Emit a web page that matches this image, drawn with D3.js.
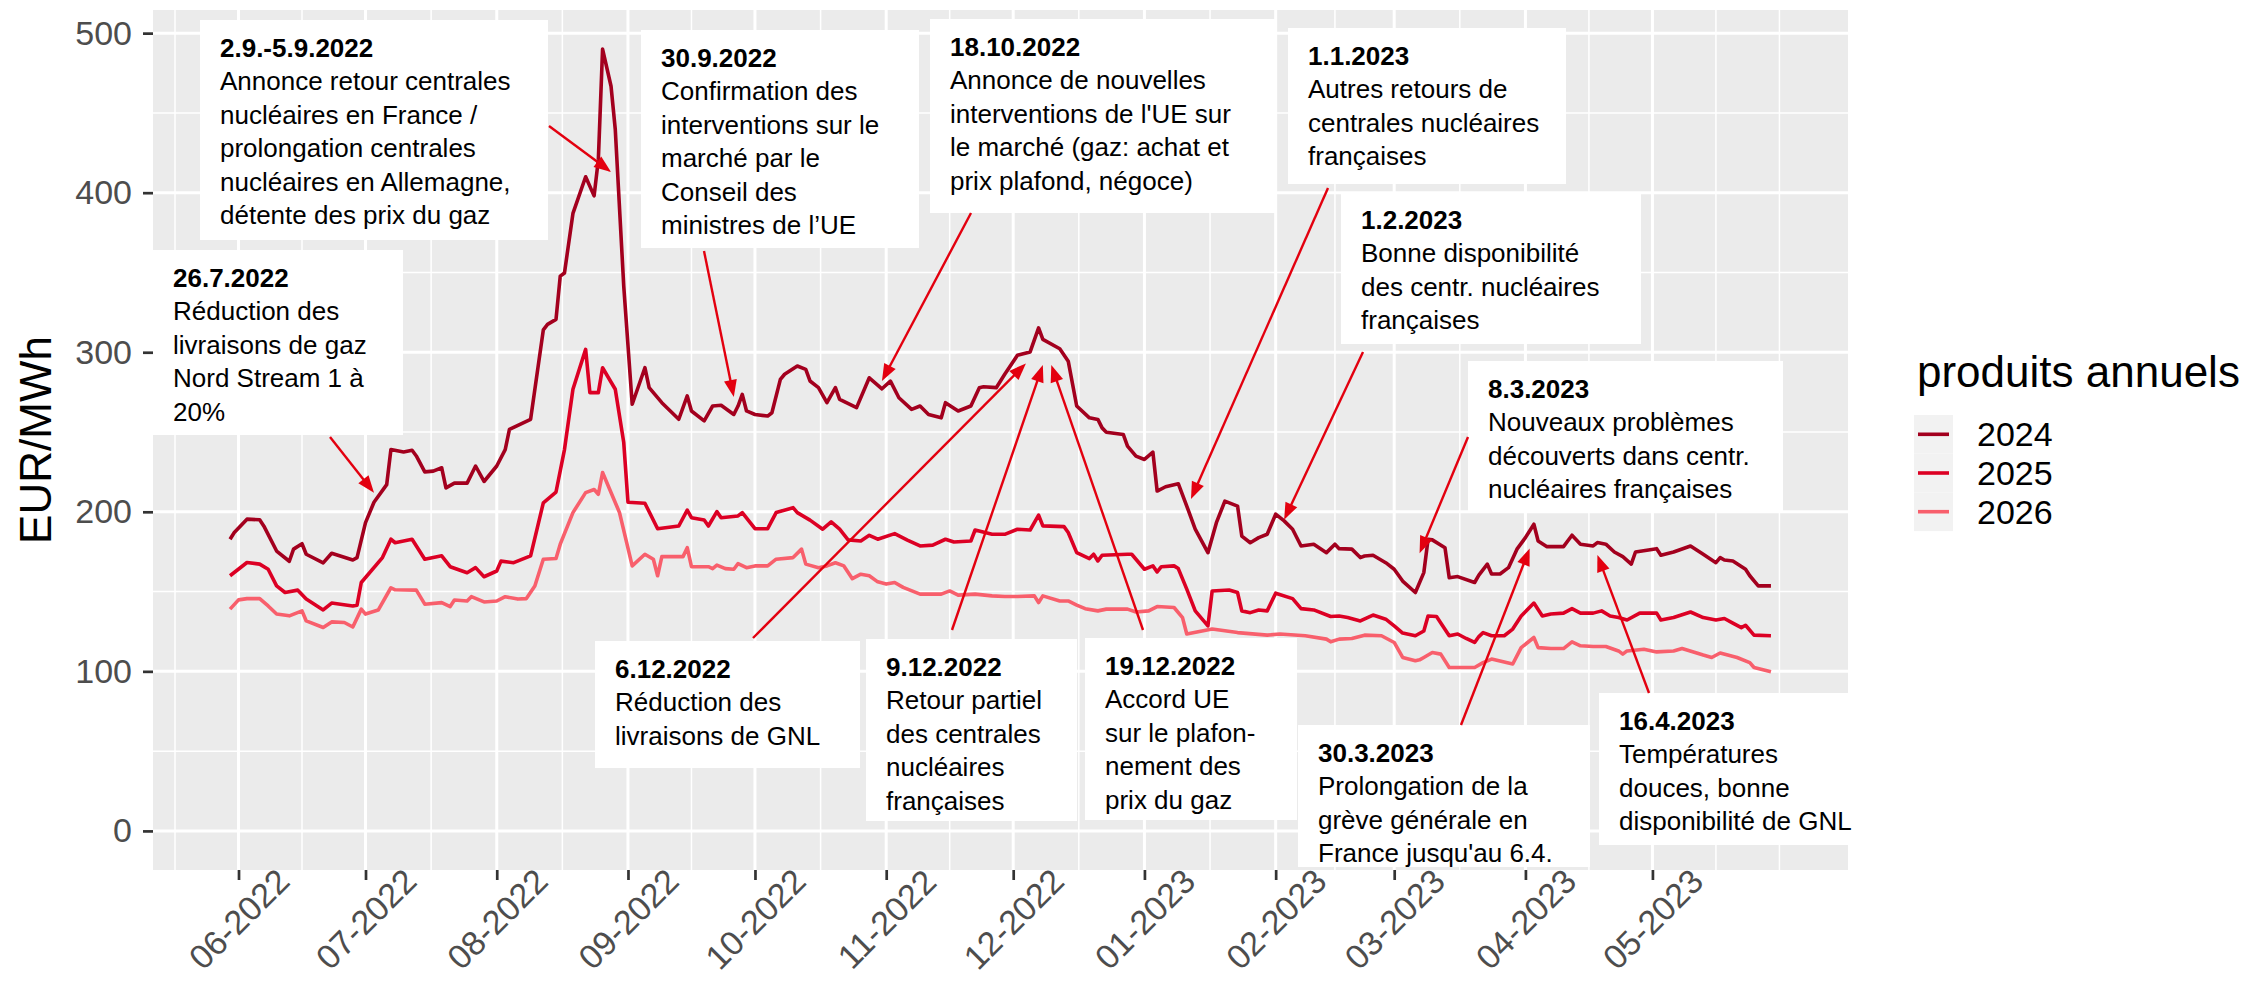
<!DOCTYPE html>
<html>
<head>
<meta charset="utf-8">
<script src="https://cdn.jsdelivr.net/npm/d3@7"></script>
<style>
body { margin: 0; background: #fff; }
svg text { font-family: "Liberation Sans", Arial, Helvetica, sans-serif; }
</style>
</head>
<body>
<svg id="chart" width="2249" height="994"></svg>
<script>
// ---- data (EUR/MWh, annual base products) ----
var dates2024 = ["2022-05-30","2022-05-31","2022-06-03","2022-06-06","2022-06-07","2022-06-10","2022-06-13","2022-06-14","2022-06-16","2022-06-17","2022-06-21","2022-06-23","2022-06-28","2022-06-29","2022-07-01","2022-07-03","2022-07-06","2022-07-07","2022-07-10","2022-07-12","2022-07-13","2022-07-15","2022-07-17","2022-07-19","2022-07-20","2022-07-22","2022-07-25","2022-07-27","2022-07-29","2022-08-01","2022-08-03","2022-08-04","2022-08-09","2022-08-12","2022-08-13","2022-08-15","2022-08-16","2022-08-17","2022-08-19","2022-08-22","2022-08-24","2022-08-25","2022-08-26","2022-08-28","2022-08-29","2022-08-31","2022-09-02","2022-09-05","2022-09-06","2022-09-09","2022-09-13","2022-09-15","2022-09-16","2022-09-19","2022-09-21","2022-09-23","2022-09-26","2022-09-27","2022-09-28","2022-09-29","2022-10-01","2022-10-04","2022-10-05","2022-10-07","2022-10-08","2022-10-11","2022-10-13","2022-10-14","2022-10-16","2022-10-18","2022-10-20","2022-10-21","2022-10-25","2022-10-28","2022-10-31","2022-11-02","2022-11-04","2022-11-07","2022-11-09","2022-11-11","2022-11-14","2022-11-15","2022-11-18","2022-11-21","2022-11-23","2022-11-24","2022-11-27","2022-11-29","2022-12-02","2022-12-05","2022-12-07","2022-12-08","2022-12-12","2022-12-14","2022-12-16","2022-12-19","2022-12-21","2022-12-22","2022-12-23","2022-12-27","2022-12-28","2022-12-30","2023-01-01","2023-01-03","2023-01-04","2023-01-06","2023-01-09","2023-01-11","2023-01-13","2023-01-16","2023-01-18","2023-01-20","2023-01-23","2023-01-24","2023-01-26","2023-01-28","2023-01-30","2023-02-01","2023-02-03","2023-02-05","2023-02-07","2023-02-10","2023-02-13","2023-02-15","2023-02-16","2023-02-19","2023-02-21","2023-02-22","2023-02-24","2023-02-27","2023-03-01","2023-03-03","2023-03-06","2023-03-08","2023-03-09","2023-03-10","2023-03-13","2023-03-14","2023-03-16","2023-03-20","2023-03-21","2023-03-23","2023-03-24","2023-03-26","2023-03-28","2023-03-30","2023-04-01","2023-04-03","2023-04-04","2023-04-06","2023-04-10","2023-04-12","2023-04-14","2023-04-17","2023-04-18","2023-04-20","2023-04-22","2023-04-24","2023-04-26","2023-04-27","2023-05-02","2023-05-03","2023-05-06","2023-05-10","2023-05-13","2023-05-16","2023-05-17","2023-05-18","2023-05-20","2023-05-23","2023-05-24","2023-05-26","2023-05-29"];
var prices2024 = [182.8,187,195.4,195,191,175.4,169,176.6,180,173.4,168,174,169.8,171.3,193.2,206,217,239,237.5,238.6,235,225,225.5,227.6,215,218,218,228.7,219,228.7,239,251.7,258,314,317.5,320.6,347.7,349.7,387,410,398,420.7,490,466.7,439.6,341.5,267.4,290.3,277.8,268.4,258,272.6,263.2,257,266.3,266.8,261,266.3,273.6,263.2,261,260,262.1,283,286.2,291.4,289.3,282,277.8,268.4,277.8,270.5,265.3,284,277.1,281.9,271.5,264.2,266.3,261,258.9,268.4,263.2,266.3,277.8,278.4,277.8,286.2,298.1,300.2,315.3,308.1,302.2,294.4,266.3,258.9,257.9,252.6,249.9,248.5,241.2,234.9,232.8,237.4,213,215.7,217.6,203.6,189.1,174.4,193.2,206.7,203.6,184.8,180.6,183.8,185.9,198.5,194.3,189.1,178.6,179.7,174.4,179.7,176.9,176.6,171.3,172.3,172.8,168.1,164,156.6,149.4,161.9,182.8,182.4,177.5,158.7,159.4,155.7,160.3,167.2,161,161,165,176.6,183.8,192.2,181.7,178.2,178.2,185.3,179.7,178.6,180.7,179.7,174.8,171.9,167.2,174.8,176.9,172.8,174.8,178.6,173.4,168.1,171.3,169.8,169.2,164,159.9,153.6,153.6];

var dates2025 = ["2022-05-30","2022-06-03","2022-06-06","2022-06-08","2022-06-10","2022-06-12","2022-06-15","2022-06-17","2022-06-21","2022-06-23","2022-06-28","2022-06-29","2022-06-30","2022-07-05","2022-07-07","2022-07-08","2022-07-12","2022-07-15","2022-07-19","2022-07-21","2022-07-25","2022-07-27","2022-07-29","2022-08-01","2022-08-02","2022-08-05","2022-08-09","2022-08-12","2022-08-15","2022-08-17","2022-08-19","2022-08-22","2022-08-23","2022-08-25","2022-08-26","2022-08-29","2022-08-31","2022-09-01","2022-09-05","2022-09-08","2022-09-13","2022-09-15","2022-09-16","2022-09-19","2022-09-20","2022-09-22","2022-09-23","2022-09-27","2022-09-28","2022-10-01","2022-10-04","2022-10-06","2022-10-10","2022-10-11","2022-10-14","2022-10-17","2022-10-19","2022-10-21","2022-10-23","2022-10-26","2022-10-28","2022-10-30","2022-11-03","2022-11-06","2022-11-09","2022-11-12","2022-11-15","2022-11-17","2022-11-21","2022-11-22","2022-11-26","2022-11-29","2022-12-02","2022-12-05","2022-12-07","2022-12-08","2022-12-13","2022-12-14","2022-12-16","2022-12-19","2022-12-20","2022-12-21","2022-12-22","2022-12-28","2022-12-29","2023-01-01","2023-01-03","2023-01-04","2023-01-05","2023-01-08","2023-01-09","2023-01-11","2023-01-13","2023-01-16","2023-01-17","2023-01-21","2023-01-23","2023-01-24","2023-01-26","2023-01-28","2023-01-30","2023-02-01","2023-02-05","2023-02-07","2023-02-10","2023-02-14","2023-02-16","2023-02-18","2023-02-21","2023-02-24","2023-02-27","2023-03-01","2023-03-03","2023-03-06","2023-03-08","2023-03-09","2023-03-11","2023-03-14","2023-03-16","2023-03-18","2023-03-20","2023-03-21","2023-03-22","2023-03-24","2023-03-27","2023-03-29","2023-03-31","2023-04-03","2023-04-05","2023-04-07","2023-04-10","2023-04-12","2023-04-14","2023-04-17","2023-04-19","2023-04-21","2023-04-23","2023-04-25","2023-04-28","2023-05-02","2023-05-03","2023-05-06","2023-05-10","2023-05-13","2023-05-16","2023-05-18","2023-05-20","2023-05-22","2023-05-23","2023-05-25","2023-05-29"];
var prices2025 = [159.9,168.2,167.2,164,153.6,149.4,150.9,145.3,138.5,142.8,141,141.5,155.7,171.3,182.8,180.6,182.8,170.3,172.4,165.6,161.8,165,159.3,162.9,169.1,168.1,172.4,205.6,212.4,239,276.8,301.8,274.7,274.7,290.3,276.8,243.4,206,205.4,189.4,191.1,201.1,196.3,194.9,191.1,200.1,196.3,197.4,199.5,189.4,189.4,199.5,202.6,199.5,194.8,189.1,193.7,189.1,182.4,181.7,185.3,182.8,186.3,182.3,178.6,179.1,182.8,181.1,181.7,188.6,185.9,185.9,189.1,188.6,197.9,191.2,190.7,187,174.4,170.7,173.4,169.2,172.8,173.4,173.4,164,166.1,162.3,165.6,166.1,164.4,151.5,137.9,128.5,150.4,151,149.4,137.9,136.8,138.5,137.9,149,145.6,139.3,138.5,134.4,134.7,133.7,131.6,135.3,132.7,128.5,124,122.3,125.3,134.7,134.4,122.3,123.4,120.6,118.1,121.8,124.3,122.3,122.3,126.5,134.7,142.8,134.7,135.9,136.5,139.3,136.5,136.5,137.9,134.7,133.7,132.2,136.5,136.5,132.2,133.7,137.2,133.7,132.2,133.1,130.2,127.4,128.9,122.7,122.3];

var dates2026 = ["2022-05-30","2022-06-01","2022-06-03","2022-06-06","2022-06-08","2022-06-10","2022-06-13","2022-06-16","2022-06-17","2022-06-21","2022-06-23","2022-06-26","2022-06-28","2022-06-30","2022-07-01","2022-07-04","2022-07-07","2022-07-08","2022-07-13","2022-07-15","2022-07-19","2022-07-21","2022-07-22","2022-07-25","2022-07-26","2022-07-29","2022-08-01","2022-08-03","2022-08-06","2022-08-08","2022-08-10","2022-08-12","2022-08-15","2022-08-16","2022-08-19","2022-08-22","2022-08-24","2022-08-25","2022-08-26","2022-08-30","2022-09-02","2022-09-05","2022-09-07","2022-09-08","2022-09-09","2022-09-14","2022-09-15","2022-09-16","2022-09-20","2022-09-21","2022-09-22","2022-09-24","2022-09-26","2022-09-27","2022-09-29","2022-10-01","2022-10-04","2022-10-06","2022-10-10","2022-10-12","2022-10-13","2022-10-16","2022-10-18","2022-10-20","2022-10-22","2022-10-24","2022-10-26","2022-10-28","2022-10-30","2022-11-01","2022-11-03","2022-11-05","2022-11-09","2022-11-14","2022-11-16","2022-11-18","2022-11-22","2022-11-26","2022-11-29","2022-12-02","2022-12-06","2022-12-07","2022-12-08","2022-12-12","2022-12-14","2022-12-16","2022-12-18","2022-12-21","2022-12-23","2022-12-28","2022-12-30","2023-01-02","2023-01-04","2023-01-08","2023-01-10","2023-01-11","2023-01-17","2023-01-23","2023-01-30","2023-02-02","2023-02-08","2023-02-13","2023-02-14","2023-02-16","2023-02-19","2023-02-22","2023-02-26","2023-03-01","2023-03-03","2023-03-06","2023-03-07","2023-03-08","2023-03-10","2023-03-12","2023-03-14","2023-03-16","2023-03-20","2023-03-22","2023-03-24","2023-03-29","2023-03-31","2023-04-03","2023-04-04","2023-04-07","2023-04-10","2023-04-12","2023-04-14","2023-04-17","2023-04-20","2023-04-23","2023-04-24","2023-04-25","2023-04-29","2023-05-02","2023-05-06","2023-05-08","2023-05-13","2023-05-15","2023-05-17","2023-05-21","2023-05-24","2023-05-25","2023-05-29"];
var prices2026 = [139,144.8,145.6,145.6,141,135.9,134.8,137.9,131.6,127.5,131,130.6,127.8,139,135.9,138.4,152.4,151.1,150.9,142.1,143.1,140.6,144.7,144.1,146.8,143.5,144.1,146.8,145.3,145.6,153.5,170.3,170.7,179.7,199.5,212,214,211,224.6,199.5,166.1,173.4,170.3,159.9,171.9,171.9,177.5,165.6,165.6,164.4,166.6,164.4,164,167.5,165,166.1,166.1,170.3,171.3,176.6,167.2,165,166.1,168.1,166.1,158.1,160.9,159.9,156.1,154.7,155.7,152.6,148.4,148.4,150.4,147.8,148.4,147.3,146.9,146.9,147.3,143.1,147.3,144.1,144.1,141.5,139.3,137.9,139,139,137.2,137.9,140.6,140,133.7,123.4,126.5,124.3,122.7,123.4,122.3,120.2,118.5,120.2,120.6,122.7,122.3,118.1,108.7,106.6,107.2,108.7,111.8,110.8,102.4,102.4,102.4,105.5,107.7,104.6,114.9,121.2,114.9,114.3,114.3,118.5,116,115.6,115.6,112.8,110.8,112.8,113.9,112.2,112.8,114.3,110.2,108.7,111.5,108.7,105.5,102.4,99.7];

var seriesNames = ["2024", "2025", "2026"];
var seriesColors = ["#a3001e", "#dc0024", "#f85f6c"];

var monthTicks = ["2022-06-01","2022-07-01","2022-08-01","2022-09-01","2022-10-01","2022-11-01","2022-12-01","2023-01-01","2023-02-01","2023-03-01","2023-04-01","2023-05-01"];
var yTicks = [0, 100, 200, 300, 400, 500];
var yMinorTicks = [50, 150, 250, 350, 450];

// events: title, text lines, point on the chart the arrow goes to
var noteTitles = ["26.7.2022", "2.9.-5.9.2022", "30.9.2022", "18.10.2022", "1.1.2023", "1.2.2023",
                  "8.3.2023", "6.12.2022", "9.12.2022", "19.12.2022", "30.3.2023", "16.4.2023"];
var noteLines = [
  ["Réduction des", "livraisons de gaz", "Nord Stream 1 à", "20%"],
  ["Annonce retour centrales", "nucléaires en France /", "prolongation centrales", "nucléaires en Allemagne,", "détente des prix du gaz"],
  ["Confirmation des", "interventions sur le", "marché par le", "Conseil des", "ministres de l’UE"],
  ["Annonce de nouvelles", "interventions de l'UE sur", "le marché (gaz: achat et", "prix plafond, négoce)"],
  ["Autres retours de", "centrales nucléaires", "françaises"],
  ["Bonne disponibilité", "des centr. nucléaires", "françaises"],
  ["Nouveaux problèmes", "découverts dans centr.", "nucléaires françaises"],
  ["Réduction des", "livraisons de GNL"],
  ["Retour partiel", "des centrales", "nucléaires", "françaises"],
  ["Accord UE", "sur le plafon-", "nement des", "prix du gaz"],
  ["Prolongation de la", "grève générale en", "France jusqu'au 6.4."],
  ["Températures", "douces, bonne", "disponibilité de GNL"]
];
var noteTipDates = ["2022-07-03", "2022-08-28", "2022-09-26", "2022-10-31", "2023-01-12", "2023-02-03",
                    "2023-03-07", "2022-12-04", "2022-12-08", "2022-12-10", "2023-04-02", "2023-04-18"];
var noteTipValues = [212, 413, 272, 282, 208, 195, 174, 293, 292, 292, 177, 173];

// layout of the note boxes [x, y, w, h] and where each arrow leaves its box
var noteBoxes = [[153,250,250,185],[200,20,348,220],[641,30,278,218],[930,19,347,194],[1288,28,278,156],[1341,192,300,152],
                 [1468,361,315,151],[595,641,265,127],[866,639,211,182],[1085,638,212,182],[1298,725,292,142],[1599,693,249,152]];
var noteTails = [[330,437],[549,126],[704,251],[971,213],[1328,188],[1363,352],
                 [1468,437],[753,638],[952,630],[1143,630],[1461,725],[1649,693]];

var svg = d3.select("#chart");
var panel = {left: 153, right: 1848, top: 10, bottom: 870};
var parseDay = d3.timeParse("%Y-%m-%d");

var series = seriesNames.map(function(name, i) {
  var ds = [dates2024, dates2025, dates2026][i];
  var ps = [prices2024, prices2025, prices2026][i];
  return {
    name: name,
    color: seriesColors[i],
    values: ds.map(function(d, j) { return {date: parseDay(d), price: ps[j]}; })
  };
});

// ggplot-like 5% expansion
var allDates = [].concat(dates2024, dates2025, dates2026).map(parseDay);
var xMin = d3.min(allDates), xMax = d3.max(allDates);
var xPad = (xMax - xMin) * 0.05;
var x = d3.scaleTime()
    .domain([new Date(+xMin - xPad), new Date(+xMax + xPad)])
    .range([panel.left, panel.right]);

var yMax = d3.max([].concat(prices2024, prices2025, prices2026));
var yPad = yMax * 0.05;
var y = d3.scaleLinear()
    .domain([-yPad, yMax + yPad])
    .range([panel.bottom, panel.top]);

// panel
svg.append("rect")
    .attr("x", panel.left).attr("y", panel.top)
    .attr("width", panel.right - panel.left)
    .attr("height", panel.bottom - panel.top)
    .attr("fill", "#ebebeb");

// minor x breaks the way ggplot makes them
var majors = monthTicks.map(parseDay);
var step = majors[1] - majors[0];
var ext = [new Date(+majors[0] - step)].concat(majors, [new Date(+majors[majors.length - 1] + step)]);
var xMinor = [];
for (var i = 0; i < ext.length - 1; i++) {
  xMinor.push(ext[i]);
  xMinor.push(new Date((+ext[i] + +ext[i + 1]) / 2));
}
xMinor.push(ext[ext.length - 1]);
xMinor = xMinor.filter(function(d) { return d >= x.domain()[0] && d <= x.domain()[1]; });

var grid = svg.append("g").attr("class", "grid");
grid.selectAll(".hminor").data(yMinorTicks).enter().append("line")
    .attr("x1", panel.left).attr("x2", panel.right)
    .attr("y1", function(d) { return y(d); }).attr("y2", function(d) { return y(d); })
    .attr("stroke", "#fff").attr("stroke-width", 1.5);
grid.selectAll(".vminor").data(xMinor).enter().append("line")
    .attr("y1", panel.top).attr("y2", panel.bottom)
    .attr("x1", function(d) { return x(d); }).attr("x2", function(d) { return x(d); })
    .attr("stroke", "#fff").attr("stroke-width", 1.5);
grid.selectAll(".hmajor").data(yTicks).enter().append("line")
    .attr("x1", panel.left).attr("x2", panel.right)
    .attr("y1", function(d) { return y(d); }).attr("y2", function(d) { return y(d); })
    .attr("stroke", "#fff").attr("stroke-width", 3);
grid.selectAll(".vmajor").data(majors).enter().append("line")
    .attr("y1", panel.top).attr("y2", panel.bottom)
    .attr("x1", function(d) { return x(d); }).attr("x2", function(d) { return x(d); })
    .attr("stroke", "#fff").attr("stroke-width", 3);

// lines
var line = d3.line()
    .x(function(d) { return x(d.date); })
    .y(function(d) { return y(d.price); });

svg.append("g").selectAll("path")
    .data(series)
  .enter().append("path")
    .attr("d", function(d) { return line(d.values); })
    .attr("fill", "none")
    .attr("stroke", function(d) { return d.color; })
    .attr("stroke-width", 3.6)
    .attr("stroke-linejoin", "round");

// axes
var xAxis = d3.axisBottom(x)
    .tickValues(majors)
    .tickFormat(d3.timeFormat("%m-%Y"))
    .tickSize(10);
var gx = svg.append("g")
    .attr("transform", "translate(0," + panel.bottom + ")")
    .call(xAxis);
gx.select(".domain").remove();
gx.selectAll(".tick line").attr("stroke", "#333").attr("stroke-width", 2.7);
gx.selectAll(".tick text")
    .attr("x", 0).attr("y", 49).attr("dy", "0.35em")
    .attr("text-anchor", "middle")
    .attr("transform", "rotate(-45 0 49)")
    .attr("font-size", 34)
    .attr("fill", "#4d4d4d");

var yAxis = d3.axisLeft(y)
    .tickValues(yTicks)
    .tickSize(10)
    .tickPadding(11);
var gy = svg.append("g")
    .attr("transform", "translate(" + panel.left + ",0)")
    .call(yAxis);
gy.select(".domain").remove();
gy.selectAll(".tick line").attr("stroke", "#333").attr("stroke-width", 2.7);
gy.selectAll(".tick text")
    .attr("font-size", 34)
    .attr("fill", "#4d4d4d");

svg.append("text")
    .attr("transform", "translate(36," + ((panel.top + panel.bottom) / 2) + ") rotate(-90)")
    .attr("text-anchor", "middle")
    .attr("dy", "0.35em")
    .attr("font-size", 44)
    .attr("fill", "#000")
    .text("EUR/MWh");

// note boxes
var notes = noteTitles.map(function(t, i) {
  return {title: t, lines: noteLines[i], box: noteBoxes[i],
          tail: noteTails[i], tip: [x(parseDay(noteTipDates[i])), y(noteTipValues[i])]};
});

var ng = svg.append("g").selectAll("g")
    .data(notes)
  .enter().append("g");

ng.append("rect")
    .attr("x", function(d) { return d.box[0]; })
    .attr("y", function(d) { return d.box[1]; })
    .attr("width", function(d) { return d.box[2]; })
    .attr("height", function(d) { return d.box[3]; })
    .attr("fill", "#fff");

ng.append("text")
    .attr("x", function(d) { return d.box[0] + 20; })
    .attr("y", function(d) { return d.box[1] + 37; })
    .attr("font-size", 26)
    .attr("font-weight", "bold")
    .attr("fill", "#000")
    .text(function(d) { return d.title; });

ng.each(function(d) {
  var g = d3.select(this);
  d.lines.forEach(function(s, k) {
    g.append("text")
        .attr("x", d.box[0] + 20)
        .attr("y", d.box[1] + 37 + (k + 1) * 33.4)
        .attr("font-size", 26)
        .attr("fill", "#000")
        .text(s);
  });
});

// arrows
var arrowColor = "#e3000f";
var headLen = 17, headHalf = 6.5;
var ag = svg.append("g");
notes.forEach(function(d) {
  var dx = d.tip[0] - d.tail[0], dy = d.tip[1] - d.tail[1];
  var len = Math.sqrt(dx * dx + dy * dy);
  var ux = dx / len, uy = dy / len;
  var bx = d.tip[0] - ux * headLen, by = d.tip[1] - uy * headLen;
  ag.append("line")
      .attr("x1", d.tail[0]).attr("y1", d.tail[1])
      .attr("x2", bx + ux * 2).attr("y2", by + uy * 2)
      .attr("stroke", arrowColor).attr("stroke-width", 2.4);
  ag.append("path")
      .attr("d", "M" + d.tip[0] + "," + d.tip[1] +
                 "L" + (bx - uy * headHalf) + "," + (by + ux * headHalf) +
                 "L" + (bx + uy * headHalf) + "," + (by - ux * headHalf) + "Z")
      .attr("fill", arrowColor);
});

// legend
var legend = svg.append("g");
legend.append("text")
    .attr("x", 1917).attr("y", 387)
    .attr("font-size", 44)
    .attr("fill", "#000")
    .text("produits annuels");

var keys = legend.selectAll(".key")
    .data(series)
  .enter().append("g")
    .attr("transform", function(d, i) { return "translate(1914," + (415 + i * 38.7) + ")"; });
keys.append("rect")
    .attr("width", 39).attr("height", 38.7)
    .attr("fill", "#f2f2f2");
keys.append("line")
    .attr("x1", 4).attr("x2", 35)
    .attr("y1", 19.3).attr("y2", 19.3)
    .attr("stroke", function(d) { return d.color; })
    .attr("stroke-width", 3.6);
keys.append("text")
    .attr("x", 63).attr("y", 19.3)
    .attr("dy", "0.35em")
    .attr("font-size", 34)
    .attr("fill", "#000")
    .text(function(d) { return d.name; });
</script>
</body>
</html>
